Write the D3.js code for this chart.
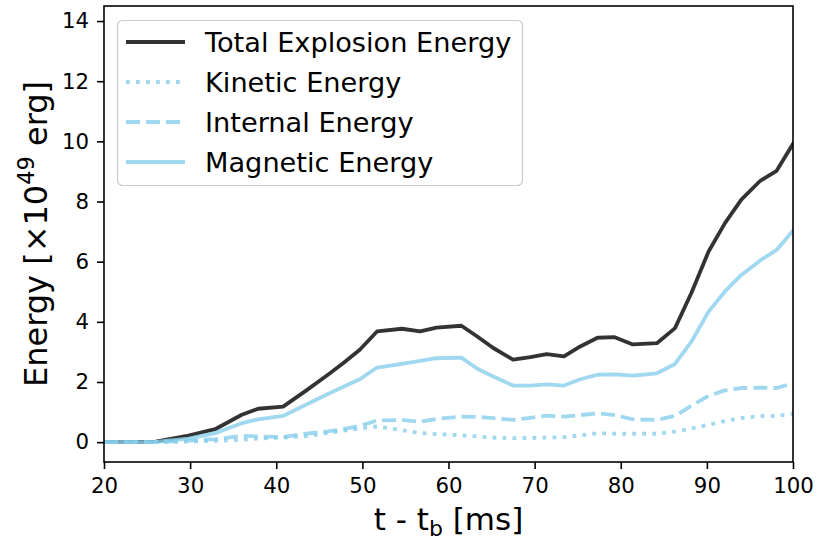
<!DOCTYPE html>
<html>
<head>
<meta charset="utf-8">
<script src="https://cdn.jsdelivr.net/npm/d3@7"></script>
<style>
  html, body { margin: 0; padding: 0; background: #fff; }
  svg { display: block; font-family: "DejaVu Sans", sans-serif; }
</style>
</head>
<body>
<svg id="chart" width="820" height="542"></svg>
<script>
// Time after bounce [ms]
const times = [20, 23, 26, 29.8, 32.9, 36.0, 37.9, 40.8, 43.5, 46.0, 47.8, 49.7,
  51.7, 54.6, 56.7, 58.6, 61.5, 63.3, 65.2, 67.5, 69.5, 71.4, 73.4, 75.3,
  77.3, 79.3, 81.4, 84.2, 86.3, 88.2, 90.2, 92.1, 94.0, 96.2, 98.1, 100];

// Energies in units of 10^49 erg
const totalEnergy = [0.0, 0.0, 0.02, 0.22, 0.43, 0.91, 1.11, 1.18, 1.72, 2.24, 2.63, 3.07,
  3.68, 3.77, 3.68, 3.81, 3.87, 3.52, 3.13, 2.74, 2.83, 2.93, 2.85, 3.18,
  3.47, 3.49, 3.25, 3.29, 3.79, 4.96, 6.34, 7.28, 8.06, 8.69, 9.02, 9.92];
const kineticEnergy = [0.0, 0.0, 0.0, 0.02, 0.04, 0.08, 0.12, 0.15, 0.20, 0.30, 0.38, 0.45,
  0.52, 0.40, 0.30, 0.27, 0.23, 0.19, 0.15, 0.13, 0.14, 0.15, 0.17, 0.22,
  0.30, 0.28, 0.28, 0.28, 0.35, 0.45, 0.58, 0.70, 0.80, 0.87, 0.87, 0.94];
const internalEnergy = [0.0, 0.0, 0.0, 0.05, 0.10, 0.21, 0.19, 0.17, 0.28, 0.36, 0.43, 0.54,
  0.72, 0.74, 0.68, 0.77, 0.85, 0.84, 0.80, 0.74, 0.81, 0.88, 0.85, 0.90,
  0.96, 0.90, 0.76, 0.74, 0.87, 1.21, 1.54, 1.72, 1.80, 1.81, 1.80, 1.96];
const magneticEnergy = [0.0, 0.0, 0.01, 0.12, 0.30, 0.63, 0.76, 0.87, 1.25, 1.60, 1.84, 2.09,
  2.48, 2.60, 2.70, 2.79, 2.81, 2.45, 2.18, 1.88, 1.88, 1.92, 1.88, 2.09,
  2.24, 2.25, 2.21, 2.29, 2.60, 3.34, 4.34, 5.01, 5.56, 6.04, 6.39, 7.03];

const seriesNames = ["Total Explosion Energy", "Kinetic Energy", "Internal Energy", "Magnetic Energy"];
const xTicks = [20, 30, 40, 50, 60, 70, 80, 90, 100];
const yTicks = [0, 2, 4, 6, 8, 10, 12, 14];

const series = [
  { name: seriesNames[0], values: totalEnergy, color: "#000000", dash: null },
  { name: seriesNames[1], values: kineticEnergy, color: "#87ceeb", dash: "3.8,6.2" },
  { name: seriesNames[2], values: internalEnergy, color: "#87ceeb", dash: "14,6" },
  { name: seriesNames[3], values: magneticEnergy, color: "#87ceeb", dash: null }
];

const margin = { left: 104, right: 27, top: 6, bottom: 80 };
const width = 820, height = 542;
const lw = 3.8;
const svg = d3.select("#chart");

const x = d3.scaleLinear().domain([20, 100]).range([margin.left, width - margin.right]);
const y = d3.scaleLinear().domain([-0.66, 14.5]).range([height - margin.bottom, margin.top]);

svg.append("defs").append("clipPath").attr("id", "plotclip")
  .append("rect")
  .attr("x", margin.left).attr("y", margin.top)
  .attr("width", width - margin.left - margin.right)
  .attr("height", height - margin.top - margin.bottom);

// Data lines
const line = d3.line()
  .x((d, i) => x(times[i]))
  .y(d => y(d));

const lineG = svg.append("g").attr("clip-path", "url(#plotclip)");
series.forEach(s => {
  lineG.append("path")
    .datum(s.values)
    .attr("d", line)
    .attr("fill", "none")
    .attr("stroke", s.color)
    .attr("stroke-opacity", 0.8)
    .attr("stroke-width", lw)
    .attr("stroke-linejoin", "round")
    .attr("stroke-linecap", s.dash ? "butt" : "square")
    .attr("stroke-dasharray", s.dash);
});

// Axes
const xAxis = d3.axisBottom(x).tickValues(xTicks).tickSize(7).tickPadding(7).tickFormat(d3.format("d"));
const yAxis = d3.axisLeft(y).tickValues(yTicks).tickSize(7).tickPadding(8).tickFormat(d3.format("d"));

const gx = svg.append("g").attr("transform", `translate(0,${height - margin.bottom})`).call(xAxis);
const gy = svg.append("g").attr("transform", `translate(${margin.left},0)`).call(yAxis);
[gx, gy].forEach(g => {
  g.select(".domain").remove();
  g.selectAll(".tick line").attr("stroke", "#000").attr("stroke-width", 1.6);
  g.selectAll(".tick text").attr("fill", "#000")
    .style("font-family", "DejaVu Sans").style("font-size", "21.3px");
});
gx.selectAll(".tick text").attr("dy", "0.8em");

// Frame
svg.append("rect")
  .attr("x", margin.left).attr("y", margin.top)
  .attr("width", width - margin.left - margin.right)
  .attr("height", height - margin.top - margin.bottom)
  .attr("fill", "none").attr("stroke", "#000").attr("stroke-width", 1.6);

// Axis labels
const xl = svg.append("text")
  .attr("x", (margin.left + width - margin.right) / 2)
  .attr("y", 530)
  .attr("text-anchor", "middle")
  .style("font-size", "31px").attr("fill", "#000");
xl.append("tspan").text("t - t");
xl.append("tspan").attr("dy", 6).style("font-size", "22px").text("b");
xl.append("tspan").attr("dy", -6).text(" [ms]");

const yl = svg.append("text")
  .attr("transform", `translate(47,${(margin.top + height - margin.bottom) / 2}) rotate(-90)`)
  .attr("text-anchor", "middle")
  .style("font-size", "32px").attr("fill", "#000");
yl.append("tspan").text("Energy [\u00d710");
yl.append("tspan").attr("dy", -13).style("font-size", "22.5px").text("49");
yl.append("tspan").attr("dy", 13).text(" erg]");

// Legend
const leg = svg.append("g");
leg.append("rect")
  .attr("x", 117.5).attr("y", 20.5).attr("width", 405).attr("height", 165)
  .attr("rx", 5).attr("ry", 5)
  .attr("fill", "#fff").attr("fill-opacity", 0.8)
  .attr("stroke", "#cccccc").attr("stroke-width", 1.2);

series.forEach((s, i) => {
  const yy = 42 + i * 40;
  leg.append("line")
    .attr("x1", 126).attr("x2", 185).attr("y1", yy).attr("y2", yy)
    .attr("stroke", s.color).attr("stroke-opacity", 0.8)
    .attr("stroke-width", lw)
    .attr("stroke-dasharray", s.dash);
  leg.append("text")
    .attr("x", 205).attr("y", yy).attr("dy", "0.36em")
    .style("font-size", "27.2px").attr("fill", "#000")
    .text(s.name);
});
</script>
</body>
</html>
